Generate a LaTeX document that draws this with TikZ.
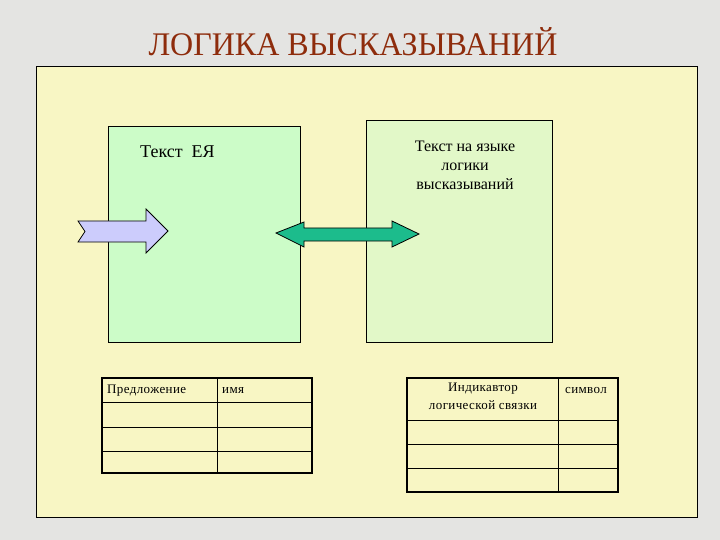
\documentclass[tikz,border=0pt]{standalone}
\usepackage{fontspec}
\setmainfont{Liberation Serif}
\definecolor{bgc}{HTML}{E4E4E2}
\definecolor{panelc}{HTML}{F8F6C4}
\definecolor{lgreen}{HTML}{CCFCC8}
\definecolor{rgreen}{HTML}{E2F8C8}
\definecolor{titlec}{HTML}{8E2C0C}
\definecolor{bluec}{HTML}{CCCCFC}
\definecolor{tealc}{HTML}{1CBC8C}
\tikzset{
  box/.style={draw=black, line width=0.8pt, anchor=north west, inner sep=0pt},
  shapeline/.style={draw=black, line width=0.8pt, line join=miter},
  tout/.style={line width=1.8pt},
  tin/.style={line width=0.8pt},
  celltext/.style={inner sep=0pt, font=\fontsize{13}{18}\selectfont\addfontfeatures{LetterSpace=3}},
  bodytext/.style={inner sep=0pt},
}
\begin{document}
\begin{tikzpicture}[x=1pt,y=-1pt]
\fill[bgc] (0,0) rectangle (720,540);
\useasboundingbox (0,0) rectangle (720,540);
\node[inner sep=0pt, text=titlec, font=\fontsize{33}{36}\selectfont] (title) at (353,42) {\scalebox{0.97}[1]{ЛОГИКА ВЫСКАЗЫВАНИЙ}};
\node[box, fill=panelc, minimum width=661pt, minimum height=451pt] (panel) at (36,66) {};
\node[box, fill=lgreen, minimum width=192pt, minimum height=216pt] (lbox) at (108,126) {};
\node[box, fill=rgreen, minimum width=186pt, minimum height=222pt] (rbox) at (366,120) {};
\node[bodytext, anchor=base west, font=\fontsize{18}{20}\selectfont] (ltext) at (140,158) {Текст\ \ ЕЯ};
\node[bodytext, align=center, font=\fontsize{16}{19}\selectfont] (rtext) at (465,165) {Текст на языке\\логики\\высказываний};
% blue arrow
\filldraw[shapeline, fill=bluec] (78,221) -- (146,221) -- (146,209) -- (168,231) -- (146,253) -- (146,242) -- (78,242) -- (85,231.5) -- cycle;
% teal double arrow
\filldraw[shapeline, fill=tealc] (276,233) -- (304,222) -- (304,228) -- (392,228) -- (392,221) -- (419,234) -- (392,247) -- (392,241) -- (304,241) -- (304,247) -- cycle;
% left table
\draw[tin] (217,378) -- (217,473);
\draw[tin] (102,402) -- (312,402);
\draw[tin] (102,427) -- (312,427);
\draw[tin] (102,451) -- (312,451);
\draw[tout] (102,378) rectangle (312,473);
\node[celltext, anchor=base west] (c1) at (107,393) {Предложение};
\node[celltext, anchor=base west] (c2) at (222,393) {имя};
% right table
\draw[tin] (558,378) -- (558,492);
\draw[tin] (407,420) -- (618,420);
\draw[tin] (407,444) -- (618,444);
\draw[tin] (407,468) -- (618,468);
\draw[tout] (407,378) rectangle (618,492);
\node[celltext, align=center, anchor=north] (c3) at (483,383) {Индикавтор\\логической связки};
\node[celltext, anchor=base] (c4) at (586,393) {символ};
\end{tikzpicture}
\end{document}
